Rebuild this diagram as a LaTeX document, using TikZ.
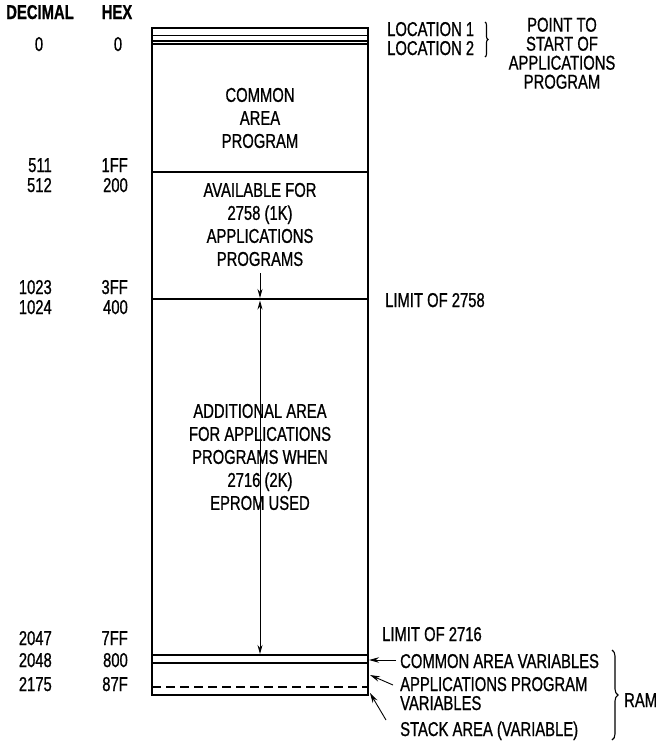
\documentclass[tikz,border=0pt]{standalone}
\usepackage{fontspec}
\setmainfont{Liberation Sans}[FakeStretch=0.74, FakeBold=0.8]
\usetikzlibrary{arrows.meta,decorations.pathreplacing}

\begin{document}
\begin{tikzpicture}[x=1pt,y=-1pt]

% Define box edges (left, right, arrow column)
\def\xl{152}
\def\xr{368}
\def\xm{260}
% Define styles
\tikzset{
    lbl/.style={font=\fontsize{20}{23}\selectfont, inner sep=0pt},
    mid/.style={lbl, align=center, anchor=north},
    side/.style={lbl, align=left, anchor=base west},
    num/.style={lbl, anchor=base east},
    hdr/.style={lbl, font=\fontsize{20}{23}\selectfont\bfseries, anchor=base},
    wall/.style={line width=1.8pt},
    thinline/.style={line width=0.9pt},
    tip/.style={thinline, -{Stealth[length=9pt,width=5pt]}},
    bothtips/.style={thinline, {Stealth[length=9pt,width=5pt]}-{Stealth[length=9pt,width=5pt]}},
    ptr/.style={thinline, -{Stealth[length=10pt,width=5.5pt]}},
    brc/.style={line width=1.1pt, decorate, decoration={brace, amplitude=#1}}
}

\useasboundingbox (0,0) rectangle (660,745);

% Memory map outline
\draw[wall] (\xl,28) rectangle (\xr,695);
\draw[wall] (\xl,35.5) -- (\xr,35.5);
\draw[line width=1.3pt] (\xl,41) -- (\xr,41);
\draw[line width=1.3pt] (\xl,44) -- (\xr,44);
\draw[wall] (\xl,172) -- (\xr,172);
\draw[wall] (\xl,299) -- (\xr,299);
\draw[wall] (\xl,655) -- (\xr,655);
\draw[wall] (\xl,663) -- (\xr,663);
\draw[line width=1.5pt, dash pattern=on 9pt off 5pt] (\xl,687) -- (\xr,687);

% Address columns
\node[hdr] (dechead) at (40,19) {DECIMAL};
\node[hdr] (hexhead) at (117,19) {HEX};
\node[lbl, anchor=base] (dec0) at (39,51) {0};
\node[lbl, anchor=base] (hex0) at (118,51) {0};
\node[num] (dec511) at (52,172) {511};
\node[num] (hex1ff) at (128,172) {1FF};
\node[num] (dec512) at (52,192) {512};
\node[num] (hex200) at (128,192) {200};
\node[num] (dec1023) at (52,294) {1023};
\node[num] (hex3ff) at (128,294) {3FF};
\node[num] (dec1024) at (52,314) {1024};
\node[num] (hex400) at (128,314) {400};
\node[num] (dec2047) at (52,645) {2047};
\node[num] (hex7ff) at (128,645) {7FF};
\node[num] (dec2048) at (52,667) {2048};
\node[num] (hex800) at (128,667) {800};
\node[num] (dec2175) at (52,691) {2175};
\node[num] (hex87f) at (128,691) {87F};

% Areas inside the map
\node[mid] (common) at (\xm,87.7) {COMMON\\AREA\\PROGRAM};
\node[mid] (avail) at (\xm,182.7) {AVAILABLE FOR\\2758 (1K)\\APPLICATIONS\\PROGRAMS};
\node[mid] (addarea) at (\xm,403.7) {ADDITIONAL AREA\\FOR APPLICATIONS\\PROGRAMS WHEN\\2716 (2K)\\EPROM USED};

% Extent arrows
\coordinate (stemtop) at (\xm,273);
\coordinate (lim58) at (\xm,298);
\coordinate (start2k) at (\xm,300.5);
\coordinate (lim16) at (\xm,654);
\draw[tip] (stemtop) -- (lim58);
\draw[bothtips] (start2k) -- (lim16);

% Start pointers
\node[side] (loc1) at (387,36) {LOCATION 1};
\node[side] (loc2) at (387,55) {LOCATION 2};
\coordinate (loctop) at (485,22);
\coordinate (locbot) at (485,57);
\draw[brc=3pt] (loctop) -- (locbot);
\node[mid, font=\fontsize{20}{19}\selectfont] (pointto) at (562,17.5) {POINT TO\\START OF\\APPLICATIONS\\PROGRAM};

% Limits
\node[side] (limit2758) at (385,307) {LIMIT OF 2758};
\node[side] (limit2716) at (382,641) {LIMIT OF 2716};

% RAM areas
\node[side] (comvars) at (400,668) {COMMON AREA VARIABLES};
\node[side, font=\fontsize{20}{19}\selectfont] (appvars) at (400,710) {APPLICATIONS PROGRAM\\VARIABLES};
\node[side] (stack) at (400,736) {STACK AREA (VARIABLE)};
\coordinate (comtail) at (396,660);
\coordinate (comhead) at (369,660);
\coordinate (apptail) at (393,685);
\coordinate (apphead) at (370,675);
\coordinate (stktail) at (386,720);
\coordinate (stkhead) at (370,693);
\draw[ptr] (comtail) -- (comhead);
\draw[ptr] (apptail) -- (apphead);
\draw[ptr] (stktail) -- (stkhead);
\coordinate (ramtop) at (612,650);
\coordinate (rambot) at (612,740);
\draw[brc=6pt] (ramtop) -- (rambot);
\node[side] (ram) at (624,707) {RAM};

\end{tikzpicture}
\end{document}
